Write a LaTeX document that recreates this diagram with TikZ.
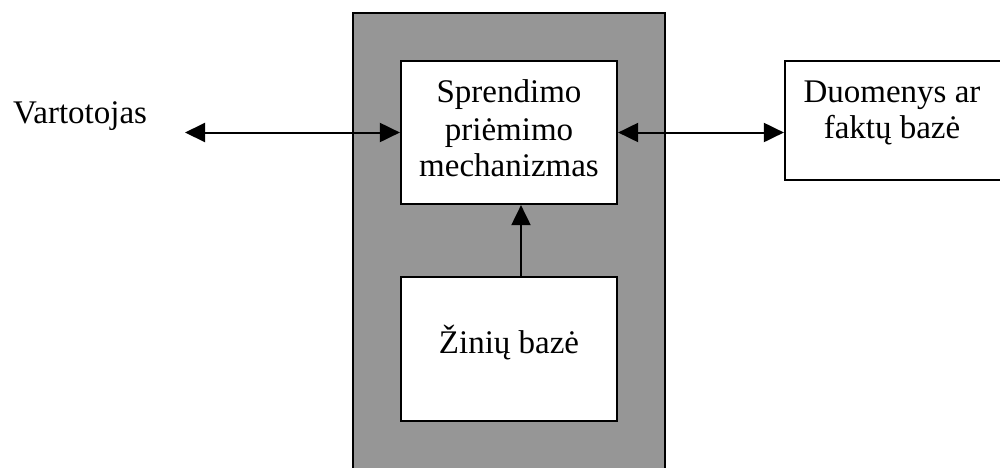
\documentclass[tikz,border=0pt]{standalone}
\usepackage{fontspec}
\setmainfont{Liberation Serif}
\usetikzlibrary{arrows.meta}
\definecolor{shell}{RGB}{150,150,150}
\tikzset{
  frame/.style={draw=black, line width=2.2pt},
  box/.style={draw=black, fill=white, line width=2.2pt, inner sep=0pt},
  txt/.style={font=\fontsize{33}{37}\selectfont, inner sep=0pt, anchor=base},
  link/.style={line width=2pt, {Triangle[length=20pt,width=19pt]}-{Triangle[length=20pt,width=19pt]}},
  uplink/.style={line width=2pt, -{Triangle[length=20pt,width=19pt]}}
}
\begin{document}
\begin{tikzpicture}[x=1pt,y=-1pt]
  \clip (0,0) rectangle (1000,467);
  % grey shell of the expert system, open at the bottom edge
  \fill[shell] (353,13) rectangle (665,480);
  \draw[frame] (353,480) -- (353,13) -- (665,13) -- (665,480);

  % inner modules
  \node[box, minimum width=216pt, minimum height=143pt] (mech) at (509,132.5) {};
  \node[box, minimum width=216pt, minimum height=144pt] (kb) at (509,348.7) {};
  \node[box, minimum width=235pt, minimum height=119pt] (db) at (902.5,120.5) {};

  % labels
  \node[txt] (mech1) at (509,102) {Sprendimo};
  \node[txt] (mech2) at (509,140) {priėmimo};
  \node[txt] (mech3) at (509,176) {mechanizmas};
  \node[txt] (kbtxt) at (509,353) {Žinių bazė};
  \node[txt] (db1) at (892,102) {Duomenys ar};
  \node[txt] (db2) at (892,138) {faktų bazė};
  \node[txt, anchor=base west] (user) at (13,123) {Vartotojas};

  % connectors
  \coordinate (userend) at (185,132.5);
  \draw[link] (userend) -- (mech.west);
  \draw[link] (mech.east) -- (mech.east -| db.west);
  \draw[uplink] ([xshift=12pt]kb.north) -- ([xshift=12pt]mech.south);
\end{tikzpicture}
\end{document}
